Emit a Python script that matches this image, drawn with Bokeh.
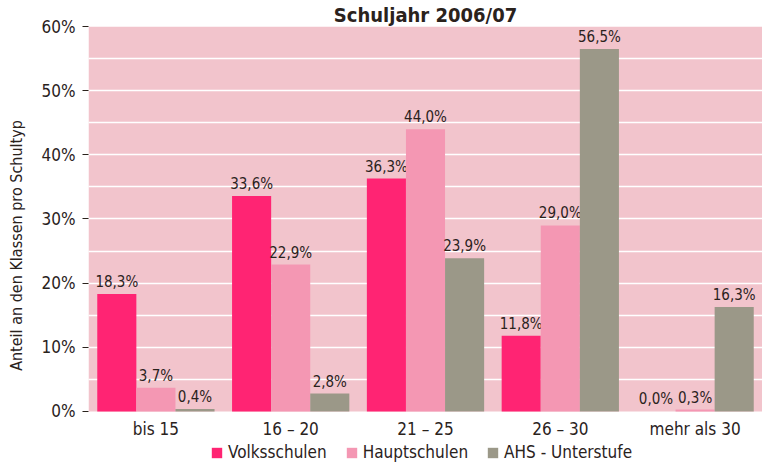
from bokeh.plotting import figure
from bokeh.models import (ColumnDataSource, FactorRange, Range1d, FixedTicker,
                          PrintfTickFormatter, Legend, LegendItem, BoxAnnotation)
from bokeh.transform import dodge
from bokeh.core.properties import value
from bokeh.embed import file_html
from bokeh.resources import INLINE

categories = ["bis 15", "16 – 20", "21 – 25", "26 – 30", "mehr als 30"]
volksschulen = [18.3, 33.6, 36.3, 11.8, 0.0]
hauptschulen = [3.7, 22.9, 44.0, 29.0, 0.3]
ahs = [0.4, 2.8, 23.9, 56.5, 16.3]
series_names = ["Volksschulen", "Hauptschulen", "AHS - Unterstufe"]
y_ticks = [0, 10, 20, 30, 40, 50, 60]
grid_ticks = [5, 10, 15, 20, 25, 30, 35, 40, 45, 50, 55]
title_text = "Schuljahr 2006/07"
y_label = "Anteil an den Klassen pro Schultyp"

FONT = "DejaVu Sans Condensed"
TXT = "#2a221c"
colors = ["#ff2473", "#f497b3", "#9b9888"]
BG = "#f2c4cc"
Y_BOTTOM = -8.26   # room below 0% for category labels and legend
Y_TOP = 60


def fmt(v):
    return f"{v:.1f}".replace(".", ",") + "%"


src = ColumnDataSource(dict(
    cat=categories,
    v=volksschulen, h=hauptschulen, a=ahs,
    vl=[fmt(x) for x in volksschulen],
    hl=[fmt(x) for x in hauptschulen],
    al=[fmt(x) for x in ahs],
))

p = figure(x_range=FactorRange(*categories), y_range=Range1d(Y_BOTTOM, Y_TOP),
           frame_width=674, frame_height=438,
           min_border_left=88, min_border_right=0, min_border_top=0,
           min_border_bottom=0, output_backend="svg", toolbar_location=None,
           background_fill_color="white", border_fill_color="white",
           outline_line_color=None, title=title_text)

p.title.align = "center"
p.title.text_font = FONT
p.title.text_font_size = "20px"
p.title.text_font_style = "bold"
p.title.text_color = TXT
p.title.standoff = 0
p.title.offset = 0

# pink plot area from 0 % to 60 %
p.add_layout(BoxAnnotation(bottom=0, top=Y_TOP, fill_color=BG, fill_alpha=1,
                           line_color=None, level="image"))

W = 0.29
offs = [-W, 0.0, W]
cols = ["v", "h", "a"]
labs = ["vl", "hl", "al"]
renderers = []
for off, c, l, col in zip(offs, cols, labs, colors):
    r = p.vbar(x=dodge("cat", off, range=p.x_range), top=c, bottom=0, width=W,
               source=src, fill_color=col, line_color=None)
    renderers.append(r)
    p.text(x=dodge("cat", off, range=p.x_range), y=c, text=l, source=src,
           text_font=value(FONT), text_font_size="15px", text_color=TXT,
           text_align="center", text_baseline="bottom", y_offset=-3)

# axes
p.yaxis.ticker = FixedTicker(ticks=y_ticks)
p.yaxis.formatter = PrintfTickFormatter(format="%d%%")
p.yaxis.axis_line_color = None
p.yaxis.major_tick_out = 6
p.yaxis.major_tick_in = 0
p.yaxis.major_tick_line_color = TXT
p.yaxis.minor_tick_line_color = None
p.yaxis.minor_tick_out = 0
p.yaxis.major_label_standoff = 7
p.yaxis.major_label_text_font = FONT
p.yaxis.major_label_text_font_size = "17px"
p.yaxis.major_label_text_color = TXT
p.yaxis.axis_label = y_label
p.yaxis.axis_label_text_font = FONT
p.yaxis.axis_label_text_font_size = "16px"
p.yaxis.axis_label_text_font_style = "normal"
p.yaxis.axis_label_text_color = TXT
p.yaxis.axis_label_standoff = 13

p.xaxis.fixed_location = 0
p.xaxis.axis_line_color = None
p.xaxis.major_tick_line_color = None
p.xaxis.minor_tick_line_color = None
p.xaxis.major_tick_out = 0
p.xaxis.major_tick_in = 0
p.xaxis.minor_tick_out = 0
p.xaxis.major_label_standoff = 8
p.xaxis.major_label_text_font = FONT
p.xaxis.major_label_text_font_size = "17px"
p.xaxis.major_label_text_color = TXT

p.xgrid.grid_line_color = None
p.ygrid.ticker = FixedTicker(ticks=grid_ticks)
p.ygrid.grid_line_color = "white"
p.ygrid.grid_line_width = 1.5

legend = Legend(items=[LegendItem(label=n, renderers=[r]) for n, r in zip(series_names, renderers)],
                orientation="horizontal", location=(122, 2),
                glyph_width=13, glyph_height=13, label_height=13,
                label_standoff=5, spacing=18, padding=0, margin=0,
                border_line_color=None, background_fill_alpha=0,
                label_text_font=FONT, label_text_font_size="17px",
                label_text_color=TXT)
p.add_layout(legend, "center")

open("out.html", "w").write(file_html(p, INLINE))
